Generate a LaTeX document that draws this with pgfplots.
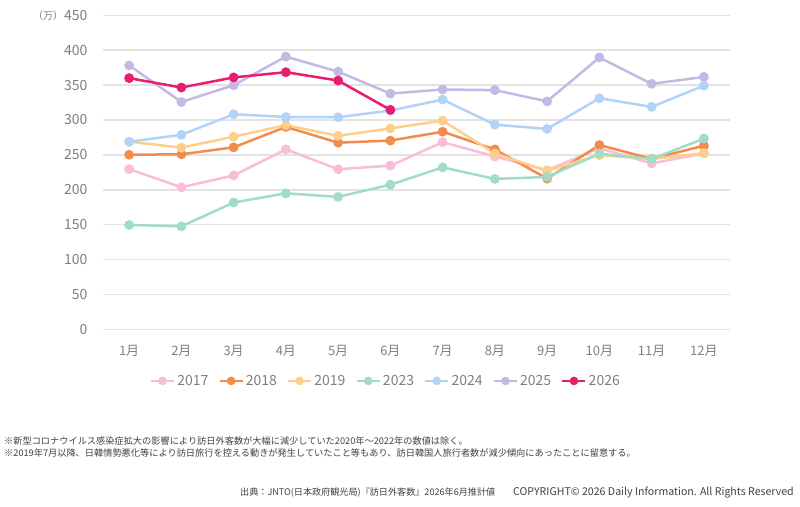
\documentclass[border=0pt]{standalone}
\usepackage{fontspec}
\setmainfont{Noto Sans CJK JP}
\usepackage{pgfplots}
\pgfplotsset{compat=1.18}
\definecolor{c17}{HTML}{F9BCD9}
\definecolor{c18}{HTML}{F28B4B}
\definecolor{c19}{HTML}{FDCF8A}
\definecolor{c23}{HTML}{A2DCC6}
\definecolor{c24}{HTML}{B2D3F8}
\definecolor{c25}{HTML}{C4B9E4}
\definecolor{c26}{HTML}{EA1C6E}
\definecolor{tickgray}{HTML}{7F7F7F}
\definecolor{gridgray}{HTML}{E3E3E3}
\definecolor{notegray}{HTML}{404040}
\begin{document}
\begin{tikzpicture}[x=1pt,y=1pt]
\useasboundingbox (0,0) rectangle (800,506);
\begin{axis}[
  at={(103pt,176.6pt)}, anchor=south west,
  width=627pt, height=314.1pt, scale only axis,
  xmin=0.5, xmax=12.5, ymin=0, ymax=450,
  xtick={1,...,12},
  xticklabels={1月,2月,3月,4月,5月,6月,7月,8月,9月,10月,11月,12月},
  ytick={0,50,...,450},
  axis line style={draw=none},
  major tick length=0pt,
  ymajorgrids, grid style={draw=gridgray, line width=1.5pt},
  /pgf/number format/assume math mode=true,
  yticklabel style={font=\fontsize{14}{16}\selectfont, text=tickgray, xshift=-12pt},
  xticklabel style={font=\fontsize{13}{15}\selectfont, text=tickgray, yshift=-12pt},
  clip=false,
  every axis plot/.append style={line width=2.5pt, mark=*, mark size=3.6pt, mark options={solid}},
  legend columns=7,
  legend style={at={(0.451,-0.164)}, anchor=center, draw=none, fill=none,
    font=\fontsize{14}{16}\selectfont, text=tickgray,
    /tikz/every even column/.append style={column sep=8pt}},
  legend image code/.code={\draw[mark repeat=2,mark phase=2,#1,mark size=3pt] plot coordinates {(0pt,0pt) (11.5pt,0pt) (23pt,0pt)};},
]
\addplot[c17] coordinates {(1,229.6)(2,203.6)(3,220.6)(4,257.9)(5,229.5)(6,234.6)(7,268.2)(8,247.8)(9,228.0)(10,259.5)(11,237.8)(12,252.1)};
\addlegendentry{2017}
\addplot[c18] coordinates {(1,250.2)(2,250.9)(3,260.8)(4,290.1)(5,267.5)(6,270.5)(7,283.2)(8,257.8)(9,216.0)(10,264.1)(11,244.4)(12,263.2)};
\addlegendentry{2018}
\addplot[c19] coordinates {(1,268.9)(2,260.4)(3,276.1)(4,292.7)(5,277.3)(6,288.0)(7,299.1)(8,252.0)(9,227.3)(10,249.7)(11,244.1)(12,252.6)};
\addlegendentry{2019}
\addplot[c23] coordinates {(1,149.7)(2,147.6)(3,181.8)(4,194.9)(5,189.9)(6,207.3)(7,232.1)(8,215.6)(9,218.4)(10,251.7)(11,244.1)(12,273.4)};
\addlegendentry{2023}
\addplot[c24] coordinates {(1,268.8)(2,278.8)(3,308.2)(4,304.3)(5,304.0)(6,313.5)(7,329.2)(8,293.4)(9,287.2)(10,331.2)(11,318.8)(12,349.2)};
\addlegendentry{2024}
\addplot[c25] coordinates {(1,378.2)(2,325.8)(3,349.8)(4,390.8)(5,369.3)(6,337.8)(7,343.7)(8,342.8)(9,326.7)(10,389.6)(11,351.8)(12,361.7)};
\addlegendentry{2025}
\addplot[c26] coordinates {(1,360.0)(2,346.5)(3,361.0)(4,368.5)(5,356.5)(6,314.5)};
\addlegendentry{2026}
\end{axis}
\node[text=tickgray, font=\fontsize{10}{12}\selectfont] at (48,490) {（万）};
\node[anchor=west, inner sep=0pt, text=notegray, font=\fontsize{9.2}{11}\selectfont] at (4,65) {※新型コロナウイルス感染症拡大の影響により訪日外客数が大幅に減少していた2020年～2022年の数値は除く。};
\node[anchor=west, inner sep=0pt, text=notegray, font=\fontsize{9.2}{11}\selectfont] at (4,53) {※2019年7月以降、日韓情勢悪化等により訪日旅行を控える動きが発生していたこと等もあり、訪日韓国人旅行者数が減少傾向にあったことに留意する。};
\node[anchor=west, inner sep=0pt, text=notegray, font=\fontsize{9.1}{11}\selectfont] at (240,13) {出典：JNTO(日本政府観光局)『訪日外客数』2026年6月推計値};
\node[anchor=east, inner sep=0pt, text=notegray, font=\fontsize{10.6}{12}\selectfont] at (794,13) {COPYRIGHT© 2026 Daily Information. All Rights Reserved};
\end{tikzpicture}
\end{document}
